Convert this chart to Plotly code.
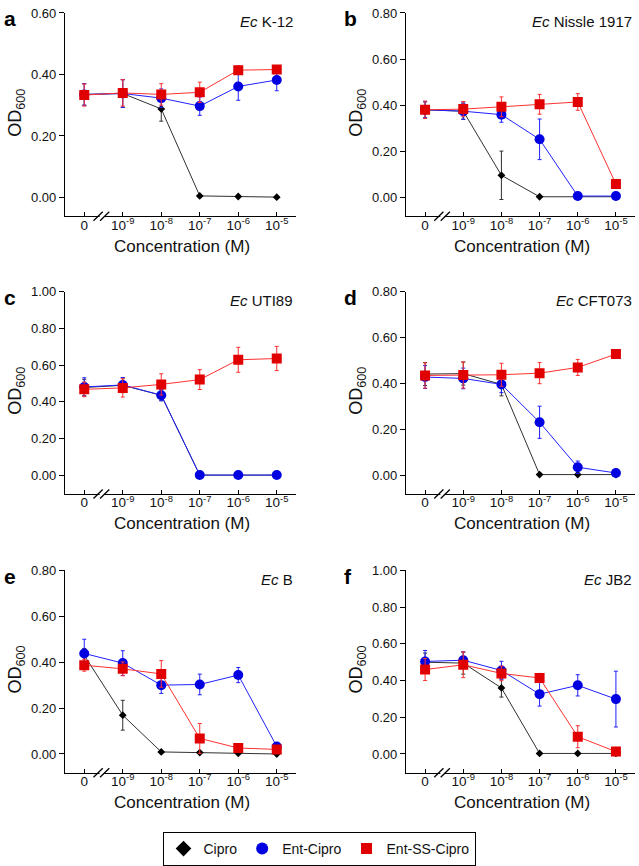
import plotly.graph_objects as go

W, H = 639, 866
FONT = "Liberation Sans, Arial, sans-serif"

categories = ["0", "10<sup>-9</sup>", "10<sup>-8</sup>", "10<sup>-7</sup>", "10<sup>-6</sup>", "10<sup>-5</sup>"]
series_names = ["Cipro", "Ent-Cipro", "Ent-SS-Cipro"]

panel_letters = ["a", "b", "c", "d", "e", "f"]
strains = ["K-12", "Nissle 1917", "UTI89", "CFT073", "B", "JB2"]
y_max = [0.6, 0.8, 1.0, 0.8, 0.8, 1.0]

# panel a
a_cipro = [0.335, 0.338, 0.288, 0.005, 0.003, 0.001]
a_cipro_err = [0.035, 0.045, 0.040, 0.003, 0.002, 0.002]
a_ent = [0.335, 0.338, 0.323, 0.297, 0.361, 0.382]
a_ent_err = [0.035, 0.045, 0.030, 0.030, 0.045, 0.035]
a_ss = [0.333, 0.340, 0.335, 0.342, 0.414, 0.416]
a_ss_err = [0.036, 0.043, 0.035, 0.033, 0.014, 0.012]

# panel b
b_cipro = [0.380, 0.374, 0.096, 0.003, 0.003, 0.003]
b_cipro_err = [0.035, 0.035, 0.105, 0.002, 0.002, 0.002]
b_ent = [0.380, 0.374, 0.359, 0.252, 0.006, 0.006]
b_ent_err = [0.035, 0.035, 0.033, 0.088, 0.004, 0.004]
b_ss = [0.380, 0.383, 0.393, 0.404, 0.414, 0.058]
b_ss_err = [0.038, 0.033, 0.043, 0.043, 0.036, 0.012]

# panel c
c_cipro = [0.478, 0.490, 0.436, 0.001, 0.001, 0.001]
c_cipro_err = [0.045, 0.040, 0.030, 0.002, 0.002, 0.002]
c_ent = [0.481, 0.492, 0.436, 0.001, 0.001, 0.001]
c_ent_err = [0.050, 0.040, 0.030, 0.003, 0.003, 0.003]
c_ss = [0.468, 0.476, 0.495, 0.521, 0.629, 0.636]
c_ss_err = [0.040, 0.050, 0.058, 0.054, 0.068, 0.066]

# panel d
d_cipro = [0.441, 0.443, 0.396, 0.003, 0.003, 0.003]
d_cipro_err = [0.050, 0.050, 0.050, 0.002, 0.002, 0.002]
d_ent = [0.428, 0.422, 0.396, 0.231, 0.035, 0.010]
d_ent_err = [0.050, 0.045, 0.036, 0.070, 0.027, 0.010]
d_ss = [0.435, 0.437, 0.438, 0.445, 0.470, 0.528]
d_ss_err = [0.055, 0.057, 0.050, 0.046, 0.035, 0.010]

# panel e
e_cipro = [0.430, 0.169, 0.009, 0.006, 0.003, 0.000]
e_cipro_err = [0.030, 0.065, 0.004, 0.003, 0.002, 0.002]
e_ent = [0.438, 0.396, 0.300, 0.303, 0.344, 0.033]
e_ent_err = [0.062, 0.054, 0.036, 0.045, 0.033, 0.010]
e_ss = [0.387, 0.371, 0.349, 0.068, 0.026, 0.020]
e_ss_err = [0.026, 0.030, 0.058, 0.065, 0.010, 0.010]

# panel f
f_cipro = [0.500, 0.495, 0.360, 0.003, 0.003, 0.003]
f_cipro_err = [0.050, 0.060, 0.050, 0.002, 0.002, 0.002]
f_ent = [0.504, 0.511, 0.455, 0.326, 0.374, 0.299]
f_ent_err = [0.060, 0.045, 0.050, 0.065, 0.058, 0.152]
f_ss = [0.460, 0.486, 0.439, 0.414, 0.094, 0.013]
f_ss_err = [0.060, 0.070, 0.040, 0.025, 0.060, 0.010]

panels = [
    (a_cipro, a_cipro_err, a_ent, a_ent_err, a_ss, a_ss_err),
    (b_cipro, b_cipro_err, b_ent, b_ent_err, b_ss, b_ss_err),
    (c_cipro, c_cipro_err, c_ent, c_ent_err, c_ss, c_ss_err),
    (d_cipro, d_cipro_err, d_ent, d_ent_err, d_ss, d_ss_err),
    (e_cipro, e_cipro_err, e_ent, e_ent_err, e_ss, e_ss_err),
    (f_cipro, f_cipro_err, f_ent, f_ent_err, f_ss, f_ss_err),
]

xs = list(range(len(categories)))

# pixel layout
col_x = [(65, 296), (406, 635)]
row_y = [(6, 211), (287, 491), (568, 772)]

def px_x(p):
    return p / W

def px_y(p):
    return 1 - p / H

marker_colors = ["#000000", "#0000e0", "#e00000"]
line_colors = ["#303030", "#2020ff", "#ff3030"]
symbols = ["diamond", "circle", "square"]
msizes = [6, 10, 10]

fig = go.Figure()
layout = {}
annotations = []
shapes = []

for i, pdata in enumerate(panels):
    r, c = divmod(i, 2)
    n = i + 1
    xa = "x" if n == 1 else f"x{n}"
    ya = "y" if n == 1 else f"y{n}"
    xkey = "xaxis" if n == 1 else f"xaxis{n}"
    ykey = "yaxis" if n == 1 else f"yaxis{n}"
    x0, x1 = col_x[c]
    yt, yb = row_y[r]
    for s in range(3):
        vals = pdata[2 * s]
        errs = pdata[2 * s + 1]
        fig.add_trace(go.Scatter(
            x=xs, y=vals, mode="lines+markers", xaxis=xa, yaxis=ya,
            showlegend=False, name=series_names[s],
            line=dict(color=line_colors[s], width=1),
            marker=dict(symbol=symbols[s], size=msizes[s], color=marker_colors[s]),
            error_y=dict(type="data", array=errs, visible=True,
                         color=line_colors[s], thickness=1, width=2),
        ))
    ymax = y_max[i]
    ymin = -0.1022 * ymax
    step = 0.2
    tv = [round(k * step, 2) for k in range(int(round(ymax / step)) + 1)]
    layout[xkey] = dict(
        domain=[px_x(x0), px_x(x1)], anchor=ya, range=[-0.5, 5.5],
        tickmode="array", tickvals=xs, ticktext=categories,
        ticks="inside", ticklen=4, tickcolor="#000", tickwidth=1,
        ticklabelstandoff=-4,
        showline=True, linecolor="#000", linewidth=1.3, mirror=False,
        showgrid=False, zeroline=False,
        tickfont=dict(family=FONT, size=13.5, color="#111"),
    )
    layout[ykey] = dict(
        domain=[px_y(yb), px_y(yt)], anchor=xa, range=[ymin, ymax],
        tickmode="array", tickvals=tv, ticktext=[f"{v:.2f}" for v in tv],
        ticks="outside", ticklen=5, tickcolor="#000", tickwidth=1,
        showline=True, linecolor="#000", linewidth=1.3,
        showgrid=False, zeroline=False,
        tickfont=dict(family=FONT, size=13, color="#111"),
    )
    # axis break
    shapes.append(dict(type="line", xref=xa, yref=f"{ya} domain",
                       x0=0.40, x1=0.52, y0=0, y1=0,
                       line=dict(color="white", width=4), layer="above"))
    for bx in (0.36, 0.53):
        shapes.append(dict(type="line", xref=xa, yref=f"{ya} domain",
                           x0=bx - 0.12, x1=bx + 0.12, y0=-0.022, y1=0.022,
                           line=dict(color="#000", width=1.3), layer="above"))
    # panel letter
    annotations.append(dict(text=f"<b>{panel_letters[i]}</b>", xref="paper", yref="paper",
                            x=px_x(x0 - 63 if c == 0 else x0 - 64), y=px_y(yt + 6),
                            xanchor="left", yanchor="middle", showarrow=False,
                            font=dict(family=FONT, size=21, color="#000")))
    # strain label
    annotations.append(dict(text=f"<i>Ec</i> {strains[i]}", xref="paper", yref="paper",
                            x=px_x(x1 - 1), y=px_y(yt + 9),
                            xanchor="right", yanchor="middle", showarrow=False,
                            font=dict(family=FONT, size=15, color="#111")))
    # y title
    annotations.append(dict(text="OD<sub>600</sub>", xref="paper", yref="paper",
                            x=px_x(x0 - 48), y=px_y((yt + yb) / 2 - 2),
                            xanchor="center", yanchor="middle", textangle=-90, showarrow=False,
                            font=dict(family=FONT, size=18, color="#111")))
    # x title
    annotations.append(dict(text="Concentration (M)", xref="paper", yref="paper",
                            x=px_x((x0 + x1) / 2 + 1), y=px_y(yb + 30),
                            xanchor="center", yanchor="middle", showarrow=False,
                            font=dict(family=FONT, size=17, color="#111")))

legend_sizes = [12, 12, 11]
for s in range(3):
    fig.add_trace(go.Scatter(
        x=[None], y=[None], mode="markers", name=series_names[s],
        marker=dict(symbol=symbols[s], size=legend_sizes[s], color=marker_colors[s]),
        showlegend=True,
    ))

fig.update_layout(
    width=W, height=H,
    margin=dict(l=0, r=0, t=0, b=0),
    paper_bgcolor="white", plot_bgcolor="white",
    annotations=annotations, shapes=shapes,
    legend=dict(orientation="h", x=px_x(319), y=px_y(849), xanchor="center", yanchor="middle",
                bordercolor="#000", borderwidth=1, bgcolor="white",
                font=dict(family=FONT, size=14, color="#111"),
                itemsizing="trace"),
    **layout,
)

fig.write_html(
    "out.html",
    config={"displayModeBar": False},
    post_script="document.body.style.margin='0';document.body.style.padding='0';document.body.style.overflow='hidden';",
)
